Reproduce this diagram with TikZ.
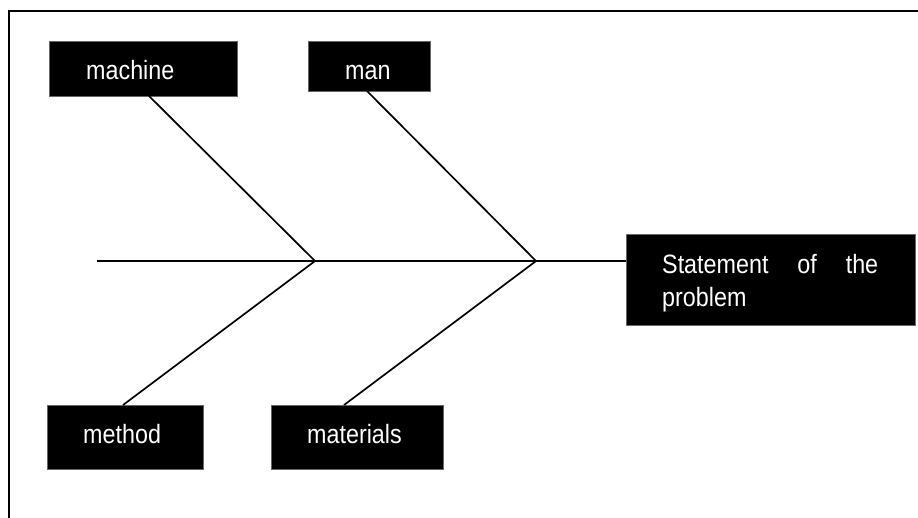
\documentclass[tikz,border=0pt]{standalone}
\usepackage{fontspec}
\setmainfont[FakeStretch=0.88]{Liberation Sans}
\begin{document}
\begin{tikzpicture}[x=1pt,y=-1pt,
  blk/.style={draw=black!60,line width=0.6pt,fill=black,inner sep=0pt},
  lbl/.style={text=white,anchor=base west,inner sep=0pt,font=\fontsize{26.5}{33}\selectfont},
  bone/.style={draw=black,line width=1.7pt},
  frame/.style={draw=black,line width=2.6pt}]
\useasboundingbox (0,0) rectangle (918,518);
\path[fill=white] (0,0) rectangle (918,518);
% frame (open at right and bottom)
\coordinate (fbl) at (9,520);
\coordinate (ftl) at (9,11);
\coordinate (ftr) at (920,11);
\draw[frame] (fbl) -- (ftl) -- (ftr);
% boxes
\node[blk,minimum width=188,minimum height=55] (mach) at (143,68.5) {};
\node[blk,minimum width=122,minimum height=50] (man) at (369,66) {};
\node[blk,minimum width=156,minimum height=64] (meth) at (125,437) {};
\node[blk,minimum width=172,minimum height=64] (mat) at (357,437) {};
\node[blk,minimum width=289,minimum height=91] (stmt) at (770.5,279.5) {};
% labels
\node[lbl] (tmach) at (86,80) {machine};
\node[lbl] (tman) at (345,80) {man};
\node[lbl] (tmeth) at (83,443) {method};
\node[lbl] (tmat) at (307,443) {materials};
\node[lbl] (tstmt1) at (662,274) {\makebox[216pt][s]{Statement of the}};
\node[lbl] (tstmt2) at (662,307) {problem};
% fishbone
\coordinate (tail) at (97,261);
\coordinate (j1) at (315,261);
\coordinate (j2) at (536,261);
\coordinate (emach) at (149,96);
\coordinate (eman) at (367,91);
\coordinate (emeth) at (123,405);
\coordinate (emat) at (344,405);
\draw[bone] (tail) -- (j1) -- (j2) -- (j2 -| stmt.west);
\draw[bone] (emach) -- (j1);
\draw[bone] (emeth) -- (j1);
\draw[bone] (eman) -- (j2);
\draw[bone] (emat) -- (j2);
\end{tikzpicture}
\end{document}
